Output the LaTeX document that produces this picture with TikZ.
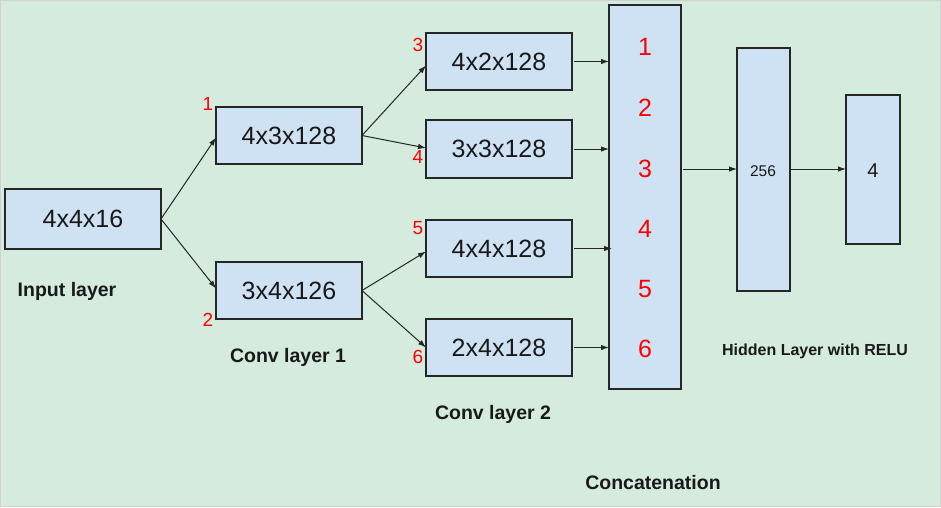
\documentclass[tikz,border=0pt]{standalone}
\usepackage{fontspec}
\setmainfont{Liberation Sans}
\usetikzlibrary{arrows.meta}
\definecolor{bggreen}{HTML}{D5EBDE}
\definecolor{boxblue}{HTML}{CFE2F3}
\definecolor{numred}{HTML}{FF0000}
\definecolor{edgegray}{HTML}{D0D0D0}
\tikzset{
  layer/.style={draw=black!85, line width=1.2pt, fill=boxblue, inner sep=0pt, outer sep=0pt},
  boxtext/.style={font=\fontsize{25}{30}\selectfont, text=black!90},
  rednum/.style={font=\fontsize{25}{30}\selectfont, text=numred},
  smallred/.style={font=\fontsize{19}{22}\selectfont, text=numred},
  caption/.style={font=\bfseries\fontsize{19.5}{23}\selectfont, text=black!90},
  conn/.style={draw=black!85, line width=1pt, -{Latex[length=8pt,width=5.5pt]}},
}
\begin{document}
\begin{tikzpicture}[x=1pt,y=-1pt]
\fill[bggreen, draw=edgegray, line width=0.8pt] (0.4,0.4) rectangle (940.6,506.6);
\useasboundingbox (0,0) rectangle (941,507);
% boxes
\node[layer, minimum width=156pt, minimum height=60pt] (in) at (83,219) {};
\node[boxtext] at (in.center) {4x4x16};
\node[layer, minimum width=146pt, minimum height=57pt] (c1a) at (289,135.5) {};
\node[boxtext] at (c1a.center) {4x3x128};
\node[layer, minimum width=146pt, minimum height=57pt] (c1b) at (289,290.5) {};
\node[boxtext] at (c1b.center) {3x4x126};
\node[layer, minimum width=146pt, minimum height=57pt] (c2a) at (499,61.5) {};
\node[boxtext] at (c2a.center) {4x2x128};
\node[layer, minimum width=146pt, minimum height=58pt] (c2b) at (499,149) {};
\node[boxtext] at (c2b.center) {3x3x128};
\node[layer, minimum width=146pt, minimum height=57pt] (c2c) at (499,248.5) {};
\node[boxtext] at (c2c.center) {4x4x128};
\node[layer, minimum width=146pt, minimum height=57pt] (c2d) at (499,347.5) {};
\node[boxtext] at (c2d.center) {2x4x128};
\node[layer, minimum width=72pt, minimum height=384pt] (cat) at (645,197) {};
\node[rednum] (n1) at (645,47) {1};
\node[rednum] (n2) at (645,108) {2};
\node[rednum] (n3) at (645,169) {3};
\node[rednum] (n4) at (645,229) {4};
\node[rednum] (n5) at (645,289) {5};
\node[rednum] (n6) at (645,349) {6};
\node[layer, minimum width=53pt, minimum height=243pt] (hid) at (763.5,169.5) {};
\node[font=\fontsize{15.5}{18}\selectfont, text=black!90] at (763,171) {256};
\node[layer, minimum width=54pt, minimum height=149pt] (out) at (873,169.5) {};
\node[font=\fontsize{20}{24}\selectfont, text=black!90] at (873,171) {4};
% small red labels
\node[smallred] (l1) at (208,104) {1};
\node[smallred] (l2) at (208,320) {2};
\node[smallred] (l3) at (418,45) {3};
\node[smallred] (l4) at (418,157) {4};
\node[smallred] (l5) at (418,228) {5};
\node[smallred] (l6) at (418,357) {6};
% captions
\node[caption] (t1) at (67,291) {Input layer};
\node[caption] (t2) at (288,357) {Conv layer 1};
\node[caption] (t3) at (493,414) {Conv layer 2};
\node[caption] (t4) at (653,483) {Concatenation};
\node[caption, font=\bfseries\fontsize{16}{19}\selectfont] (t5) at (815,351) {Hidden Layer with RELU};
% connectors
\coordinate (ine) at (in.east);
\draw[conn] (ine) -- ([yshift=-2pt]c1a.west);
\draw[conn] (ine) -- ([yshift=2pt]c1b.west);
\coordinate (c1ae) at (c1a.east);
\draw[conn] (c1ae) -- ([yshift=-4pt]c2a.west);
\draw[conn] (c1ae) -- ([yshift=1pt]c2b.west);
\coordinate (c1be) at (c1b.east);
\draw[conn] (c1be) -- ([yshift=-3pt]c2c.west);
\draw[conn] (c1be) -- (c2d.west);
\coordinate (k1) at (cat.west |- c2a.east);
\coordinate (k2) at (cat.west |- c2b.east);
\coordinate (k3) at ([xshift=3pt]cat.west |- c2c.east);
\coordinate (k4) at (cat.west |- c2d.east);
\draw[conn] ([xshift=2pt]c2a.east) -- (k1);
\draw[conn] ([xshift=2pt]c2b.east) -- (k2);
\draw[conn] ([xshift=2pt]c2c.east) -- (k3);
\draw[conn] ([xshift=2pt]c2d.east) -- (k4);
\coordinate (cate) at ([xshift=2pt]cat.east |- n3);
\draw[conn] (cate) -- (hid.west |- n3);
\draw[conn] (hid.east |- n3) -- (out.west |- n3);
\end{tikzpicture}
\end{document}
